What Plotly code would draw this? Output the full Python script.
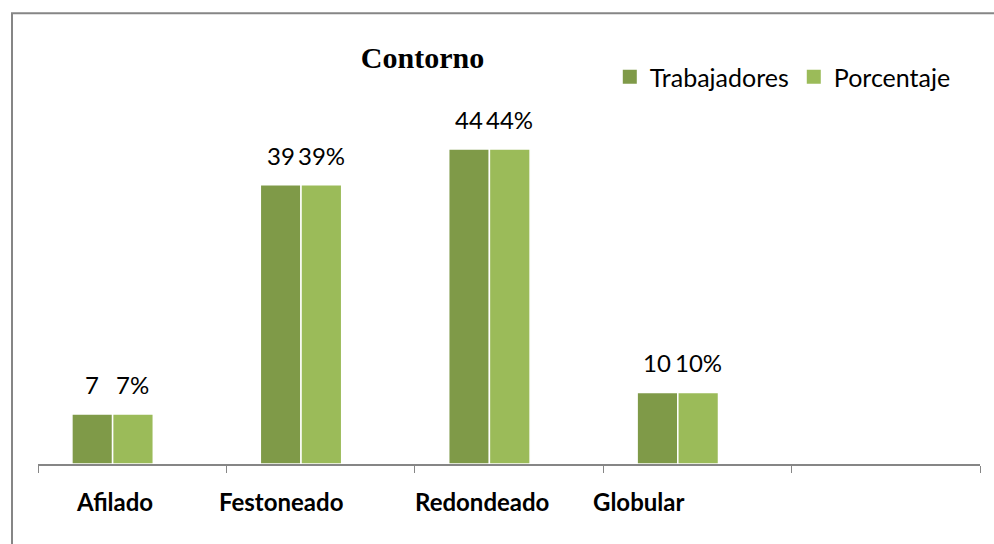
import plotly.graph_objects as go

categories = ["Afilado", "Festoneado", "Redondeado", "Globular"]
trabajadores = [7, 39, 44, 10]
porcentaje = [7, 39, 44, 10]
series_names = ["Trabajadores", "Porcentaje"]
title_text = "Contorno"

# style / layout
DARK = "#7F9A48"
LIGHT = "#9BBB59"
AXIS = "#868686"
SANS = "Lato, 'Open Sans', sans-serif"
BAR_W = 0.216
OFF0 = -0.32
label_xshift = [-18, -40, -27, -59]

x = list(range(len(categories)))

fig = go.Figure()
fig.add_bar(x=x, y=trabajadores, name=series_names[0], width=BAR_W, offset=OFF0,
            showlegend=False, marker=dict(color=DARK, line=dict(color="white", width=1.5)))
fig.add_bar(x=x, y=porcentaje, name=series_names[1], width=BAR_W, offset=OFF0 + BAR_W,
            showlegend=False, marker=dict(color=LIGHT, line=dict(color="white", width=1.5)))
# legend entries (square swatches)
for nm, col in zip(series_names, [DARK, LIGHT]):
    fig.add_scatter(x=[None], y=[None], mode="markers", name=nm,
                    marker=dict(symbol="square", size=14, color=col))

ann = []
for i, (a, b) in enumerate(zip(trabajadores, porcentaje)):
    ann.append(dict(x=i + OFF0 + BAR_W / 2, y=a, text=f"{a}", showarrow=False, yanchor="bottom",
                    yshift=13, font=dict(family=SANS, size=24, color="#000")))
    ann.append(dict(x=i + OFF0 + 1.5 * BAR_W, y=b, text=f"{b}%", showarrow=False, yanchor="bottom",
                    yshift=13, font=dict(family=SANS, size=24, color="#000")))
for i, c in enumerate(categories):
    ann.append(dict(x=i, y=0, text=f"<b>{c}</b>", showarrow=False, yanchor="middle",
                    yshift=-37, xshift=label_xshift[i], font=dict(family=SANS, size=24, color="#000")))

fig.update_layout(
    width=994, height=544,
    margin=dict(l=38, r=14, t=106, b=80),
    paper_bgcolor="white", plot_bgcolor="white",
    barmode="overlay",
    title=dict(text=f"<b>{title_text}</b>", x=422.5 / 994, xanchor="center", y=1 - 57 / 544,
               yanchor="middle", font=dict(family="Liberation Serif", size=30, color="#000")),
    showlegend=True,
    legend=dict(orientation="h", x=0.607, xanchor="left", y=1.081, yanchor="middle",
                font=dict(family=SANS, size=25, color="#000"), bgcolor="rgba(0,0,0,0)"),
    xaxis=dict(range=[-0.5, 4.5], tickmode="array", tickvals=[-0.5, 0.5, 1.5, 2.5, 3.5, 4.5],
               ticktext=[""] * 6, ticks="outside", ticklen=7, tickcolor=AXIS, tickwidth=1,
               showline=True, linecolor=AXIS, linewidth=2, showgrid=False, zeroline=False,
               fixedrange=True),
    yaxis=dict(range=[0, 50], visible=False, showgrid=False, zeroline=False, fixedrange=True),
    annotations=ann,
    shapes=[dict(type="rect", xref="paper", yref="paper",
                 x0=(12 - 38) / 942, x1=1.2, y0=-0.5, y1=(463.7 - 13) / 358,
                 line=dict(color=AXIS, width=2), fillcolor="rgba(0,0,0,0)", layer="below")],
)

fig.write_html("out.html", config={"displayModeBar": False},
               post_script="document.body.style.margin='0';")
